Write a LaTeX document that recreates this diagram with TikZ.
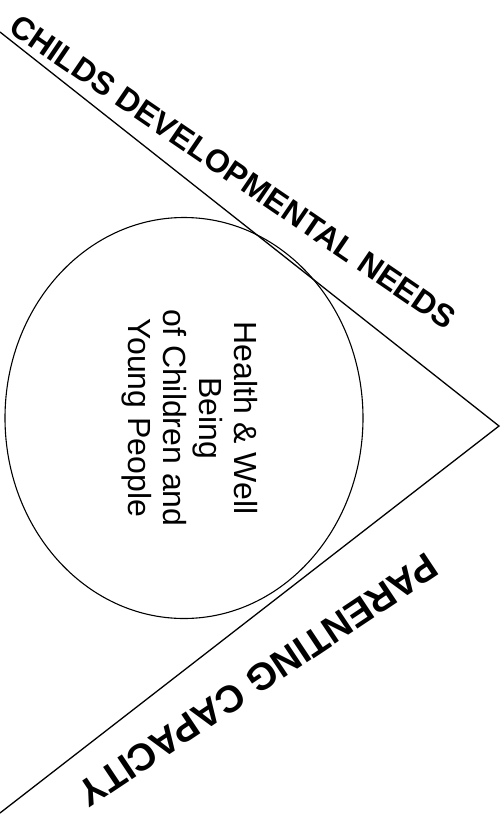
\documentclass[tikz,border=0pt]{standalone}
\usepackage{fontspec}
\setmainfont{Liberation Sans}
\usetikzlibrary{shapes.geometric}

\begin{document}
\begin{tikzpicture}[
  x=1pt, y=-1pt,
  side/.style={draw=black, line width=1.3pt},
  sidelabel/.style={font=\fontsize{32}{36}\selectfont\bfseries, inner sep=0pt},
  centre/.style={draw=black, line width=1.1pt, ellipse, inner sep=0pt,
    minimum width=358pt, minimum height=401pt},
  centretext/.style={font=\fontsize{32}{35.5}\selectfont, align=center,
    rotate=-90, inner sep=0pt},
]
  \useasboundingbox (0,0) rectangle (504,815);
  \coordinate (apex) at (499,426);
  \coordinate (topend) at (0,32);
  \coordinate (lowend) at (0,813);

  \draw[side] (topend) -- (apex) -- (lowend);

  \node[centre] (child) at (184,418) {};
  \node[centretext] (wellbeing) at (190,418)
    {Health \& Well\\Being\\of Children and\\Young People};

  \node[sidelabel, rotate=-34.3] (needs) at (233,172)
    {CHILDS DEVELOPMENTAL NEEDS};
  \node[sidelabel, rotate=213.7, font=\fontsize{38}{40}\selectfont\bfseries]
    (capacity) at (258,680) {PARENTING CAPACITY};
\end{tikzpicture}
\end{document}
